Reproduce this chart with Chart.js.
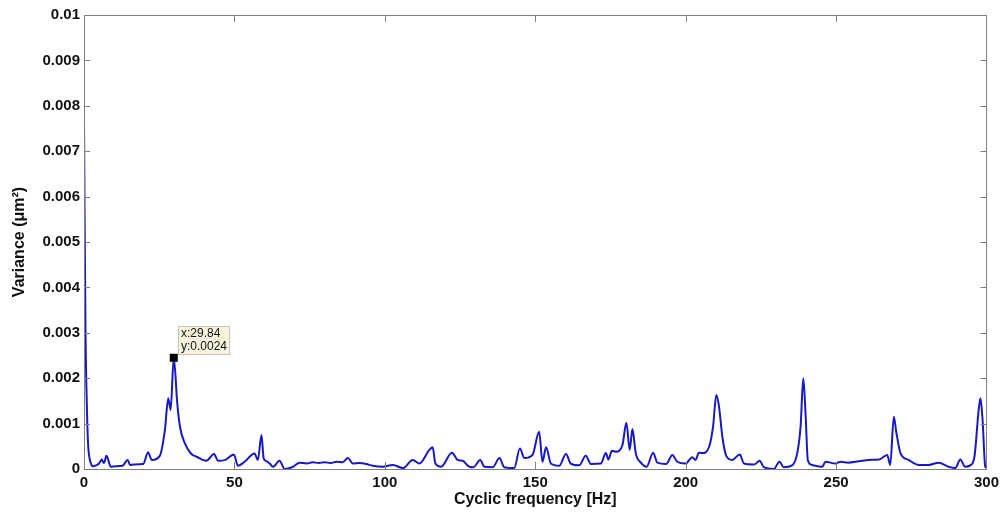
<!DOCTYPE html>
<html>
<head>
<meta charset="utf-8">
<script src="https://cdn.jsdelivr.net/npm/chart.js@4.4.1/dist/chart.umd.min.js"></script>
<style>
html,body{margin:0;padding:0;background:#fff;}
#wrap{width:1004px;height:514px;position:relative;}
</style>
</head>
<body>
<div id="wrap"><canvas id="c" width="1004" height="514"></canvas></div>
<script>
// Cyclic frequency [Hz]
const frequency = [0,0.2,0.5,0.8,1.1,1.4,1.8,2.3,3.0,4.0,5.0,5.9,6.6,7.5,8.9,10.5,12.8,14.5,15.3,16.4,19.7,21.3,22.5,25.2,26.9,28.0,28.8,29.84,31.0,31.9,33.5,35.7,37.4,40.7,43.2,44.6,47.0,49.8,51.2,53.4,56.7,57.8,59.0,59.7,60.5,61.7,62.8,65.0,66.7,69.5,71.7,74,76,78,80,82,84,86,87.7,89.4,91.5,93.8,96,99.3,102.7,106,109.3,111.5,114.8,115.9,116.8,118.7,122.3,124.2,125.9,128.1,129.5,131.7,133.1,135.9,138.1,139.7,143.0,144.9,146.4,149.1,151.3,152.4,153.6,155.2,158.0,160.2,161.8,164.6,166.8,168.5,171.8,173.5,174.3,175.5,176.8,179.0,180.3,181.4,182.3,183.4,185.1,187.0,189.2,190.6,193.5,195.6,197.2,200.0,202.2,203.3,204.4,205.5,207.8,209.1,210.2,211.1,212.2,213.5,215.5,218.0,219.4,222.8,224.6,226.0,229.3,231.2,232.6,235.4,237.1,238.2,239.1,239.9,240.6,242.0,245.4,246.5,249.8,251.5,254,257.6,260.9,264.3,267.0,268.0,269.2,270.0,271.4,274.1,277.5,280.8,284.1,287.4,289.6,291.3,292.9,294.6,296.0,297.4,298.0,298.7,299.6,300];
// Variance (µm²)
const variance = [0.0077,0.0056,0.0030,0.0018,0.0010,0.0005,0.00025,0.00012,0.00006,0.00008,0.00012,0.00021,0.00013,0.00029,0.00005,0.00006,0.00007,0.00020,0.00009,0.00010,0.00011,0.00037,0.00020,0.00029,0.00086,0.00156,0.00130,0.00245,0.00145,0.00093,0.00057,0.00033,0.00027,0.00018,0.00033,0.00018,0.00020,0.00032,0.00007,0.00016,0.00034,0.00020,0.00075,0.00024,0.00018,0.00012,0.00005,0.00018,0.00000,0.00005,0.00014,0.00012,0.00015,0.00013,0.00015,0.00013,0.00016,0.00015,0.00024,0.00012,0.00013,0.00011,0.00007,0.00005,0.00009,0.00002,0.00020,0.00012,0.00042,0.00048,0.00012,0.00005,0.00036,0.00020,0.00018,0.00005,0.00004,0.00020,0.00005,0.00004,0.00024,0.00004,0.00002,0.00045,0.00024,0.00031,0.00082,0.00016,0.00048,0.00012,0.00007,0.00033,0.00012,0.00008,0.00029,0.00011,0.00012,0.00035,0.00021,0.00040,0.00038,0.00053,0.00102,0.00042,0.00088,0.00035,0.00014,0.00005,0.00036,0.00014,0.00011,0.00031,0.00016,0.00012,0.00026,0.00020,0.00036,0.00035,0.00049,0.00093,0.00163,0.00137,0.00071,0.00029,0.00020,0.00032,0.00012,0.00010,0.00018,0.00004,0.00000,0.00016,0.00004,0.00008,0.00035,0.00093,0.00200,0.00115,0.00020,0.00009,0.00005,0.00016,0.00012,0.00016,0.00014,0.00017,0.00020,0.00021,0.00031,0.00009,0.00115,0.00082,0.00035,0.00020,0.00009,0.00009,0.00014,0.00005,0.00002,0.00021,0.00005,0.00008,0.00027,0.00130,0.00156,0.00108,0.00005,0.00003];
const xTickLabels = ['0','50','100','150','200','250','300'];
const yTickLabels = ['0','0.001','0.002','0.003','0.004','0.005','0.006','0.007','0.008','0.009','0.01'];
const tipX = 29.84;
const tipY = 0.00245;
const tipLines = ['x:29.84','y:0.0024'];

const points = frequency.map((f,i)=>({x:f,y:variance[i]}));

const boxPlugin = {
  id:'boxTicks',
  afterDraw(chart){
    const {ctx, chartArea:a, scales:{x,y}} = chart;
    ctx.save();
    ctx.strokeStyle = '#7f7f7f';
    ctx.lineWidth = 1;
    ctx.strokeRect(Math.round(a.left)+0.5, Math.round(a.top)+0.5, Math.round(a.right-a.left), Math.round(a.bottom-a.top));
    ctx.beginPath();
    x.ticks.forEach(t=>{
      const px = Math.round(x.getPixelForValue(t.value))+0.5;
      ctx.moveTo(px,a.bottom); ctx.lineTo(px,a.bottom-7);
      ctx.moveTo(px,a.top); ctx.lineTo(px,a.top+7);
    });
    y.ticks.forEach(t=>{
      const py = Math.round(y.getPixelForValue(t.value))+0.5;
      ctx.moveTo(a.left,py); ctx.lineTo(a.left+6,py);
      ctx.moveTo(a.right,py); ctx.lineTo(a.right-6,py);
    });
    ctx.stroke();
    // data tip
    const mx = x.getPixelForValue(tipX), my = y.getPixelForValue(tipY);
    ctx.fillStyle = '#000';
    ctx.fillRect(mx-4, my-4, 8, 8);
    ctx.font = '12px "Liberation Sans", Arial, sans-serif';
    const w = Math.max(...tipLines.map(s=>ctx.measureText(s).width)) + 5;
    const h = 28;
    const bx = Math.round(mx+4)+0.5, by = Math.round(my-4-h)+0.5;
    ctx.fillStyle = '#f7f3df';
    ctx.fillRect(bx,by,w,h);
    ctx.strokeStyle = '#c8c4b0';
    ctx.strokeRect(bx,by,w,h);
    ctx.fillStyle = '#111';
    ctx.textBaseline = 'middle';
    ctx.textAlign = 'left';
    ctx.fillText(tipLines[0], bx+2.5, by+7.5);
    ctx.fillText(tipLines[1], bx+2.5, by+20.5);
    ctx.restore();
  }
};

new Chart(document.getElementById('c'), {
  type:'line',
  data:{datasets:[{data:points, borderColor:'#1818c4', borderWidth:2, pointRadius:0, cubicInterpolationMode:'monotone', fill:false}]},
  plugins:[boxPlugin],
  options:{
    responsive:false, animation:false, devicePixelRatio:1,
    layout:{padding:{left:0,right:14,top:15,bottom:0}},
    plugins:{legend:{display:false}, tooltip:{enabled:false}},
    scales:{
      x:{type:'linear', min:0, max:300,
        afterFit(s){ s.height = 45; },
        ticks:{stepSize:50, padding:5, color:'#111', font:{family:'"Liberation Sans", Arial, sans-serif', size:15, weight:'bold'},
          callback:(v)=>{const i = Math.round(v/50); return xTickLabels[i];}},
        grid:{display:false, drawTicks:false},
        border:{display:false},
        title:{display:true, text:'Cyclic frequency [Hz]', color:'#111', padding:{top:0,bottom:5}, font:{family:'"Liberation Sans", Arial, sans-serif', size:16, weight:'bold'}}
      },
      y:{type:'linear', min:0, max:0.01,
        afterFit(s){ s.width = 84; },
        ticks:{stepSize:0.001, padding:4, color:'#111', font:{family:'"Liberation Sans", Arial, sans-serif', size:15, weight:'bold'},
          callback:(v)=>{const i = Math.round(v*1000); return yTickLabels[i];}},
        grid:{display:false, drawTicks:false},
        border:{display:false},
        title:{display:true, text:'Variance (\u03BCm\u00B2)', color:'#111', padding:{top:10,bottom:0}, font:{family:'"Liberation Sans", Arial, sans-serif', size:16, weight:'bold'}}
      }
    }
  }
});
</script>
</body>
</html>
